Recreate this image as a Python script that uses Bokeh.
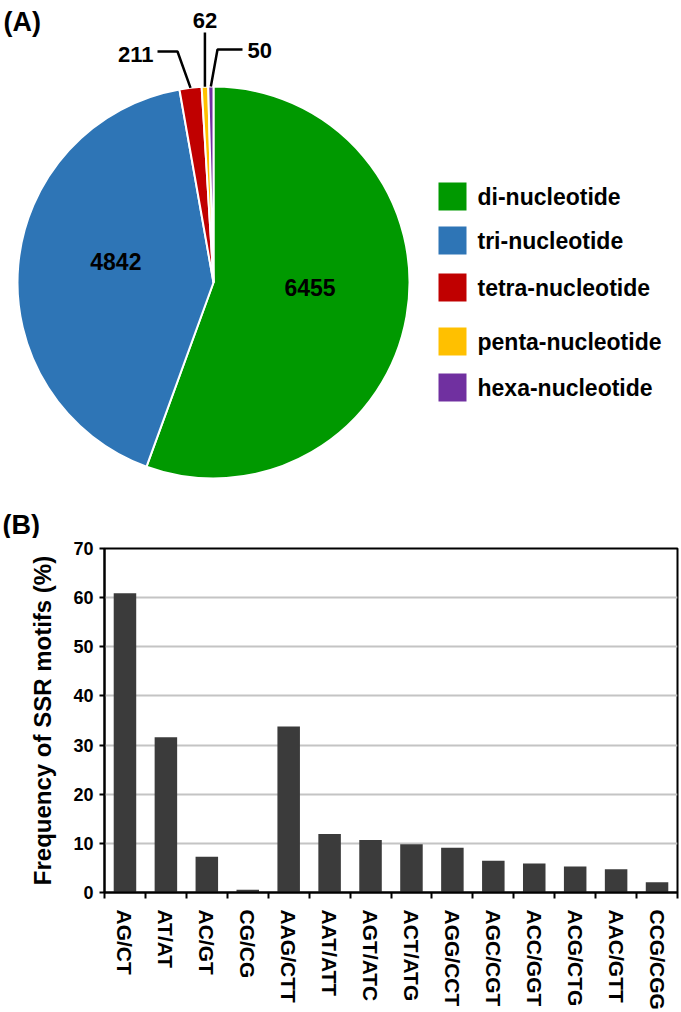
import math
from bokeh.plotting import figure
from bokeh.layouts import column
from bokeh.models import Range1d, FixedTicker
from bokeh.core.properties import value
from bokeh.embed import file_html
from bokeh.resources import INLINE

# ---------------- data ----------------
pie_labels = ["di-nucleotide", "tri-nucleotide", "tetra-nucleotide",
              "penta-nucleotide", "hexa-nucleotide"]
pie_counts = [6455, 4842, 211, 62, 50]
pie_colors = ["#009900", "#2e75b6", "#c00000", "#ffc000", "#7030a0"]

motifs = ["AG/CT", "AT/AT", "AC/GT", "CG/CG", "AAG/CTT", "AAT/ATT", "AGT/ATC",
          "ACT/ATG", "AGG/CCT", "AGC/CGT", "ACC/GGT", "ACG/CTG", "AAC/GTT", "CCG/CGG"]
freq = [60.9, 31.6, 7.3, 0.55, 33.8, 11.9, 10.7, 9.8, 9.1, 6.45, 5.9, 5.3, 4.75, 2.1]
y_ticks = [0, 10, 20, 30, 40, 50, 60, 70]

FONT = value("Liberation Sans")

# ---------------- pie panel ----------------
W1, H1 = 681, 538
p1 = figure(width=W1, height=H1, x_range=Range1d(0, W1), y_range=Range1d(0, H1),
            output_backend="svg", toolbar_location=None,
            x_axis_location=None, y_axis_location=None, min_border=0)
p1.frame_align = False
p1.grid.visible = False
p1.outline_line_color = None


def pg(x, y):
    """page pixel -> pie panel data coords"""
    return x, H1 - y


cx, cy = pg(213, 282)
R = 196
total = float(sum(pie_counts))
starts, ends, mids = [], [], []
cum = 0
for c in pie_counts:
    a0 = math.pi / 2 - 2 * math.pi * cum / total
    cum += c
    a1 = math.pi / 2 - 2 * math.pi * cum / total
    starts.append(a0)
    ends.append(a1)
    mids.append((a0 + a1) / 2)

p1.wedge(x=cx, y=cy, radius=R, start_angle=starts, end_angle=ends,
         direction="clock", fill_color=pie_colors, line_color="white", line_width=2)

# big slice labels
for i in (0, 1):
    lx = cx + 0.5 * R * math.cos(mids[i])
    ly = cy + 0.5 * R * math.sin(mids[i]) + 12
    p1.text(x=[lx], y=[ly], text=[str(pie_counts[i])], text_align="center",
            text_baseline="middle", text_font=FONT, text_font_style="bold",
            text_font_size="23px", text_color="black")

# small slice leader lines
anch = [(cx + R * math.cos(mids[i]), cy + R * math.sin(mids[i])) for i in (2, 3, 4)]
e_red1 = pg(177, 51)
e_red2 = pg(157, 51)
e_pur1 = pg(217, 49)
e_pur2 = pg(242, 49)
top_y = pg(0, 32)[1]
xs = [[anch[0][0], e_red1[0], e_red2[0]],
      [anch[1][0], anch[1][0]],
      [anch[2][0], e_pur1[0], e_pur2[0]]]
ys = [[anch[0][1], e_red1[1], e_red2[1]],
      [anch[1][1], top_y],
      [anch[2][1], e_pur1[1], e_pur2[1]]]
p1.multi_line(xs=xs, ys=ys, line_color="black", line_width=2.5)

t211 = pg(153, 54)
p1.text(x=[t211[0]], y=[t211[1]], text=[str(pie_counts[2])], text_align="right",
        text_baseline="middle", text_font=FONT, text_font_style="bold",
        text_font_size="22px")
t62 = pg(0, 20)
p1.text(x=[anch[1][0]], y=[t62[1]], text=[str(pie_counts[3])], text_align="center",
        text_baseline="middle", text_font=FONT, text_font_style="bold",
        text_font_size="22px")
t50 = pg(247, 50)
p1.text(x=[t50[0]], y=[t50[1]], text=[str(pie_counts[4])], text_align="left",
        text_baseline="middle", text_font=FONT, text_font_style="bold",
        text_font_size="22px")

# legend
leg_y_page = [196, 240, 287, 341, 387]
sq_x = pg(452, 0)[0]
tx_x = pg(477, 0)[0]
leg_y = [pg(0, yy)[1] for yy in leg_y_page]
p1.rect(x=[sq_x] * 5, y=leg_y, width=28, height=28, fill_color=pie_colors,
        line_color=None)
p1.text(x=[tx_x] * 5, y=leg_y, text=pie_labels, text_align="left",
        text_baseline="middle", text_font=FONT, text_font_style="bold",
        text_font_size="23px", text_color="black")

# panel letters
pa = pg(3, 21)
p1.text(x=[pa[0]], y=[pa[1]], text=["(A)"], text_align="left", text_baseline="middle",
        text_font=FONT, text_font_style="bold", text_font_size="27px")
pb = pg(2, 524)
p1.text(x=[pb[0]], y=[pb[1]], text=["(B)"], text_align="left", text_baseline="middle",
        text_font=FONT, text_font_style="bold", text_font_size="27px")

# ---------------- bar panel ----------------
H2 = 1012 - H1
p2 = figure(width=681, height=H2, x_range=Range1d(0, len(motifs)), y_range=Range1d(0, 70),
            output_backend="svg", toolbar_location=None,
            min_border_left=104, min_border_right=4, min_border_top=10, min_border_bottom=120)
p2.frame_align = False

xpos = [i + 0.5 for i in range(len(motifs))]
p2.vbar(x=xpos, top=freq, width=0.55, fill_color="#3b3b3b", line_color=None)

p2.xgrid.visible = False
p2.ygrid.ticker = FixedTicker(ticks=y_ticks)
p2.ygrid.grid_line_color = "#c4c4c4"
p2.ygrid.grid_line_width = 2
p2.outline_line_color = "black"
p2.outline_line_width = 2

xa = p2.xaxis[0]
xa.ticker = FixedTicker(ticks=xpos, minor_ticks=list(range(len(motifs) + 1)))
xa.major_label_overrides = {x: m for x, m in zip(xpos, motifs)}
xa.major_tick_out = 0
xa.major_tick_in = 0
xa.minor_tick_out = 6
xa.minor_tick_in = 0
xa.minor_tick_line_color = "black"
xa.minor_tick_line_width = 2
xa.axis_line_width = 2
xa.axis_line_color = "black"
xa.major_label_orientation = "vertical"
xa.major_label_standoff = 11
xa.major_label_text_font = "Liberation Sans"
xa.major_label_text_font_style = "bold"
xa.major_label_text_font_size = "21px"
xa.major_label_text_color = "black"

ya = p2.yaxis[0]
ya.ticker = FixedTicker(ticks=y_ticks)
ya.major_tick_out = 5
ya.major_tick_in = 0
ya.major_tick_line_width = 2
ya.minor_tick_out = 0
ya.minor_tick_in = 0
ya.axis_line_width = 2
ya.axis_line_color = "black"
ya.major_label_standoff = 6
ya.major_label_text_font = "Liberation Sans"
ya.major_label_text_font_style = "bold"
ya.major_label_text_font_size = "18px"
ya.major_label_text_color = "black"
ya.axis_label = "Frequency of SSR motifs (%)"
ya.axis_label_text_font = "Liberation Sans"
ya.axis_label_text_font_style = "bold"
ya.axis_label_text_font_size = "24px"
ya.axis_label_text_color = "black"
ya.axis_label_standoff = 14

layout = column(p1, p2, spacing=0)
open("out.html", "w").write(file_html(layout, INLINE))
